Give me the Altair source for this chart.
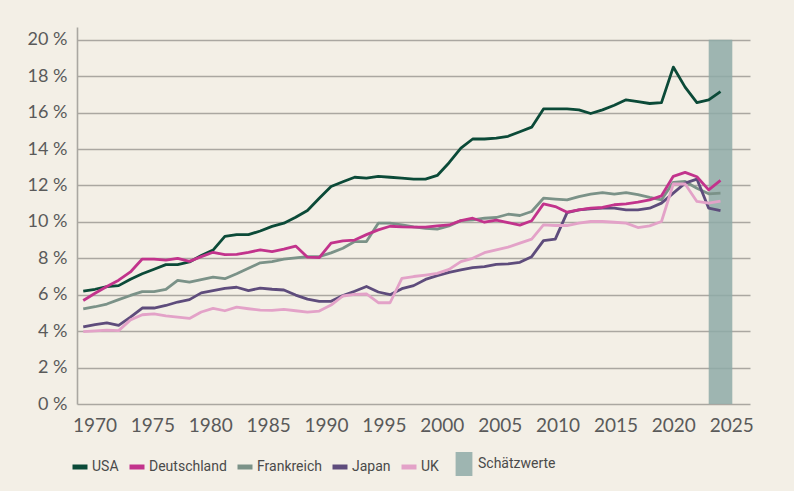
import altair as alt
import pandas as pd

# ---------------- data ----------------
years = list(range(1970, 2025))

usa = [6.2, 6.3, 6.45, 6.5, 6.85, 7.15, 7.4, 7.65, 7.65, 7.8,
       8.15, 8.45, 9.2, 9.3, 9.3, 9.5, 9.75, 9.93, 10.25, 10.62,
       11.3, 11.94, 12.2, 12.45, 12.4, 12.5, 12.45, 12.4, 12.35, 12.35,
       12.55, 13.25, 14.05, 14.55, 14.55, 14.6, 14.7, 14.95, 15.2, 16.2,
       16.2, 16.2, 16.15, 15.95, 16.15, 16.4, 16.7, 16.6, 16.5, 16.55,
       18.5, 17.4, 16.55, 16.7, 17.15]

deutschland = [5.68, 6.08, 6.45, 6.8, 7.25, 7.96, 7.96, 7.9, 8.0, 7.83,
               8.09, 8.33, 8.2, 8.22, 8.33, 8.46, 8.37, 8.5, 8.67, 8.06,
               8.04, 8.83, 8.96, 9.0, 9.3, 9.56, 9.76, 9.72, 9.71, 9.71,
               9.78, 9.83, 10.07, 10.2, 9.98, 10.1, 9.96, 9.82, 10.06, 10.99,
               10.84, 10.53, 10.66, 10.75, 10.79, 10.94, 10.99, 11.08, 11.21, 11.43,
               12.5, 12.72, 12.48, 11.76, 12.28]

frankreich = [5.22, 5.34, 5.49, 5.73, 5.96, 6.17, 6.17, 6.3, 6.79, 6.69,
              6.83, 6.97, 6.88, 7.15, 7.45, 7.75, 7.82, 7.95, 8.02, 8.09,
              8.09, 8.3, 8.55, 8.92, 8.92, 9.93, 9.93, 9.84, 9.72, 9.65,
              9.6, 9.78, 10.07, 10.11, 10.2, 10.24, 10.42, 10.35, 10.57, 11.3,
              11.25, 11.21, 11.39, 11.52, 11.6, 11.52, 11.6, 11.49, 11.34, 11.21,
              12.17, 12.22, 11.85, 11.54, 11.58]

japan = [4.23, 4.36, 4.45, 4.32, 4.77, 5.27, 5.27, 5.41, 5.6, 5.73,
         6.1, 6.22, 6.35, 6.41, 6.23, 6.36, 6.3, 6.26, 5.98, 5.76,
         5.64, 5.64, 5.95, 6.19, 6.45, 6.15, 6.0, 6.33, 6.5, 6.84,
         7.05, 7.23, 7.36, 7.49, 7.54, 7.67, 7.69, 7.78, 8.09, 8.97,
         9.05, 10.51, 10.66, 10.72, 10.75, 10.75, 10.66, 10.66, 10.75, 11.03,
         11.58, 12.13, 12.35, 10.75, 10.62]

uk = [3.97, 4.02, 4.06, 4.03, 4.62, 4.9, 4.95, 4.84, 4.77, 4.7,
      5.05, 5.25, 5.12, 5.32, 5.23, 5.15, 5.14, 5.2, 5.12, 5.05,
      5.1, 5.43, 5.93, 6.02, 6.04, 5.56, 5.56, 6.9, 7.0, 7.08,
      7.17, 7.39, 7.82, 8.0, 8.31, 8.46, 8.61, 8.83, 9.05, 9.83,
      9.8, 9.8, 9.93, 10.02, 10.02, 9.98, 9.93, 9.69, 9.78, 10.02,
      12.08, 12.08, 11.12, 11.03, 11.14]

series_names = ["USA", "Deutschland", "Frankreich", "Japan", "UK"]
series_values = {"USA": usa, "Deutschland": deutschland, "Frankreich": frankreich,
                 "Japan": japan, "UK": uk}
draw_order = ["USA", "Frankreich", "Japan", "UK", "Deutschland"]

est_label = ["Schätzwerte"]
est_start = [2023]
est_end = [2025]
est_bottom = [0]
est_top = [20]

x_tick_years = [1970, 1975, 1980, 1985, 1990, 1995, 2000, 2005, 2010, 2015, 2020, 2025]
y_tick_values = [0, 2, 4, 6, 8, 10, 12, 14, 16, 18, 20]

# ---------------- style ----------------
series_colors = ["#0b4a38", "#c2338c", "#7b9288", "#5e4c7c", "#e3a2c8"]
est_color = "#8eaaa7"
bg = "#f3efe6"
grid_col = "#aaa7a1"
text_col = "#5a5a5a"
FONT = "Lato"
LEG_FONT = "Roboto"

x_data_domain = [1969.47, 2026.5]
x_axis_domain = [1968.49, 2026.62]
y_domain = [0, 20.7]

rows = []
for name in draw_order:
    for yr, v in zip(years, series_values[name]):
        rows.append({"Jahr": yr, "Wert": v, "Land": name})
df = pd.DataFrame(rows)

est_df = pd.DataFrame({"label": est_label, "start": est_start, "end": est_end,
                       "bottom": est_bottom, "top": est_top})
tick_df = pd.DataFrame({"Jahr": x_tick_years})

y_axis = alt.Axis(values=y_tick_values, labelExpr="datum.value + ' %'", title=None,
                  grid=True, gridColor=grid_col, gridWidth=1.6,
                  domain=True, domainColor=grid_col, domainWidth=1.6,
                  ticks=False, labelFont=FONT, labelFontSize=18, labelColor=text_col,
                  labelPadding=10)
y_scale = alt.Scale(domain=y_domain, nice=False, zero=True)
x_data_scale = alt.Scale(domain=x_data_domain, nice=False, zero=False)

rect = alt.Chart(est_df).mark_rect(opacity=0.85).encode(
    x=alt.X("start:Q", scale=x_data_scale, axis=None),
    x2="end:Q",
    y=alt.Y("bottom:Q", scale=y_scale, axis=y_axis),
    y2="top:Q",
    fill=alt.Fill("label:N", scale=alt.Scale(domain=est_label, range=[est_color]),
                  legend=alt.Legend(title=None, orient="none", legendX=375, legendY=425,
                                    symbolType="M-0.7,-1L0.7,-1L0.7,1L-0.7,1Z",
                                    symbolSize=576, symbolStrokeWidth=0,
                                    labelFont=LEG_FONT, labelFontSize=14,
                                    labelColor="#4a4a4a", labelOffset=2, padding=0)),
)

lines = alt.Chart(df).mark_line(strokeWidth=2.8, strokeJoin="round").encode(
    x=alt.X("Jahr:Q", scale=x_data_scale, axis=None),
    y=alt.Y("Wert:Q", scale=y_scale, axis=y_axis),
    color=alt.Color("Land:N", scale=alt.Scale(domain=series_names, range=series_colors),
                    legend=alt.Legend(title=None, orient="none", legendX=-7, legendY=430,
                                      direction="horizontal", symbolType="stroke",
                                      symbolStrokeWidth=5, symbolSize=225,
                                      labelFont=LEG_FONT, labelFontSize=14,
                                      labelColor="#4a4a4a", labelOffset=2,
                                      columnPadding=0, padding=0)),
    detail="Land:N",
)

axis_layer = alt.Chart(tick_df).mark_point(opacity=0).encode(
    x=alt.X("Jahr:Q", scale=alt.Scale(domain=x_axis_domain, nice=False, zero=False),
            axis=alt.Axis(orient="bottom", values=x_tick_years, format="d", title=None,
                          grid=False, domain=False, ticks=False, labelFont=FONT,
                          labelFontSize=19, labelColor=text_col, labelPadding=12)),
)

chart = alt.layer(rect, lines, axis_layer).resolve_scale(
    x="independent"
).properties(
    width=673, height=377,
    autosize=alt.AutoSizeParams(type="none"),
    padding={"left": 77, "top": 27, "right": 44, "bottom": 87},
    background=bg,
).configure_view(stroke=None)

chart.save("out.html", embed_options={"renderer": "svg", "actions": False})
